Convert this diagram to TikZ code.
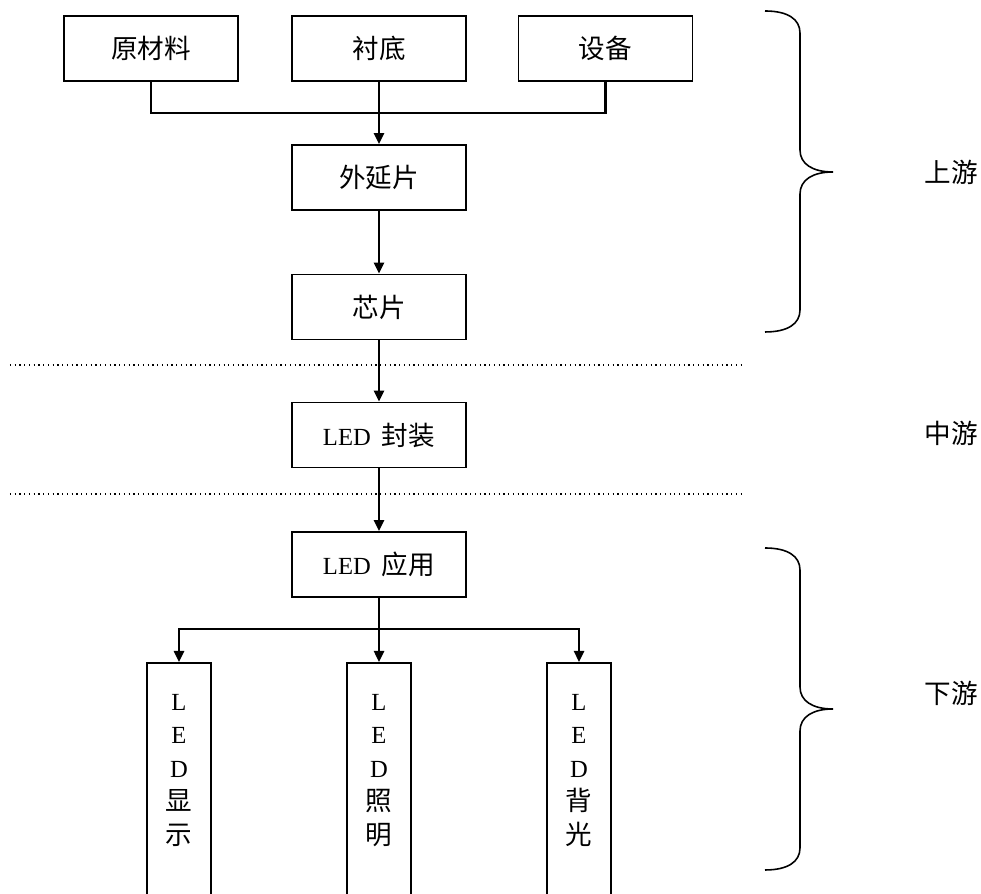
\documentclass[tikz,border=0pt]{standalone}
\usepackage{fontspec}
\setmainfont{Liberation Serif}
\newfontfamily\cjk[Scale=1.08]{Noto Sans CJK SC}
\usepackage{tikz}
\usetikzlibrary{positioning,arrows.meta,calc}

\begin{document}
\begin{tikzpicture}[
  box/.style={draw, line width=1pt, minimum width=3.48cm, minimum height=1.3cm, inner sep=0pt, font=\fontsize{14}{17}\selectfont},
  colbox/.style={draw, line width=1pt, minimum width=1.28cm, minimum height=4.9cm, inner sep=0pt, anchor=north},
  coltext/.style={align=center, inner sep=0pt, anchor=north, font=\fontsize{14}{19}\selectfont},
  link/.style={line width=1.4pt},
  arrow/.style={line width=1.4pt, -{Triangle[length=2.2mm,width=2mm]}},
  brace/.style={line width=0.9pt},
  divider/.style={line width=0.7pt, dotted},
  stage/.style={font=\fontsize{14}{17}\selectfont\cjk, inner sep=0pt}
]
\useasboundingbox (0,0) rectangle (19.62,17.88);

% Upstream boxes
\node[box] (yuan) at (3.02,16.91) {\cjk 原材料};
\node[box] (chen) at (7.58,16.91) {\cjk 衬底};
\node[box] (shebei) at (12.11,16.91) {\cjk 设备};
\node[box] (wai) at (7.58,14.33) {\cjk 外延片};
\node[box] (xin) at (7.58,11.74) {\cjk 芯片};

% Midstream and application
\node[box] (feng) at (7.58,9.18) {LED\hspace{0.45em}{\cjk 封装}};
\node[box] (ying) at (7.58,6.59) {LED\hspace{0.45em}{\cjk 应用}};

% Downstream columns
\node[colbox] (disp) at (3.58,4.64) {};
\node[colbox] (zhao) at (7.58,4.64) {};
\node[colbox] (bei) at (11.58,4.64) {};
\node[coltext] (disptxt) at (3.58,4.0) {L\\E\\D\\{\cjk 显}\\{\cjk 示}};
\node[coltext] (zhaotxt) at (7.58,4.0) {L\\E\\D\\{\cjk 照}\\{\cjk 明}};
\node[coltext] (beitxt) at (11.58,4.0) {L\\E\\D\\{\cjk 背}\\{\cjk 光}};

% Connectors
\coordinate (merge) at (7.58,15.62);
\draw[link] (yuan.south) |- (merge) -| (shebei.south);
\draw[arrow] (chen.south) -- (wai.north);
\draw[arrow] (wai.south) -- (xin.north);
\draw[arrow] (xin.south) -- (feng.north);
\draw[arrow] (feng.south) -- (ying.north);
\coordinate (split) at (7.58,5.30);
\draw[link] (ying.south) -- (split);
\draw[arrow] (split) -| (disp.north);
\draw[arrow] (split) -- (zhao.north);
\draw[arrow] (split) -| (bei.north);

% Dividers
\draw[divider] (0.2,10.58) -- (14.84,10.58);
\draw[divider] (0.2,8.0) -- (14.84,8.0);

% Braces
\draw[brace] (15.3,17.66) .. controls (15.75,17.66) and (16.0,17.5) .. (16.0,17.22) -- (16.0,14.88)
  .. controls (16.0,14.6) and (16.25,14.44) .. (16.66,14.44)
  .. controls (16.25,14.44) and (16.0,14.28) .. (16.0,14.0) -- (16.0,11.68)
  .. controls (16.0,11.4) and (15.75,11.24) .. (15.3,11.24);
\draw[brace] (15.3,6.92) .. controls (15.75,6.92) and (16.0,6.76) .. (16.0,6.48) -- (16.0,4.14)
  .. controls (16.0,3.86) and (16.25,3.70) .. (16.66,3.70)
  .. controls (16.25,3.70) and (16.0,3.54) .. (16.0,3.26) -- (16.0,0.92)
  .. controls (16.0,0.64) and (15.75,0.48) .. (15.3,0.48);

% Stage labels
\node[stage] (up) at (19.02,14.44) {上游};
\node[stage] (mid) at (19.02,9.22) {中游};
\node[stage] (down) at (19.02,4.02) {下游};
\end{tikzpicture}
\end{document}
